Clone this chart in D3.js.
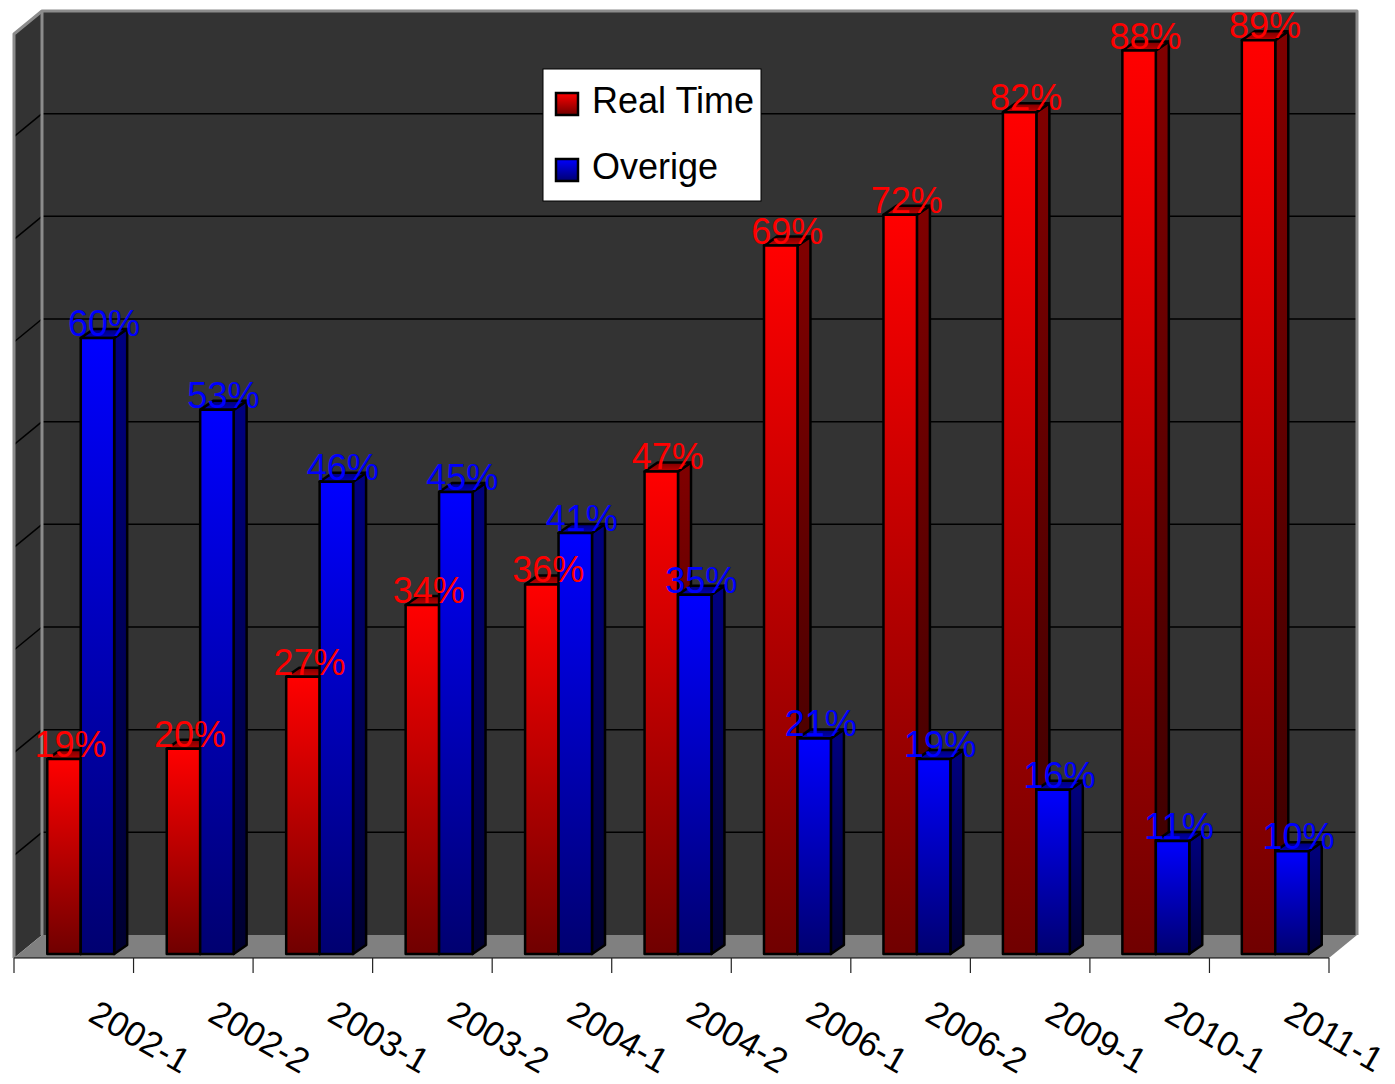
<!DOCTYPE html>
<html>
<head>
<meta charset="utf-8">
<script src="https://cdn.jsdelivr.net/npm/d3@7"></script>
<style>
  html, body { margin: 0; padding: 0; background: #ffffff; }
  svg { display: block; }
  text { font-family: "Liberation Sans", Arial, sans-serif; }
</style>
</head>
<body>
<svg id="chart" width="1395" height="1084"></svg>
<script>
// Share of measurements per period
const categories = ["2002-1", "2002-2", "2003-1", "2003-2", "2004-1", "2004-2",
                    "2006-1", "2006-2", "2009-1", "2010-1", "2011-1"];
const seriesNames = ["Real Time", "Overige"];
const realTime = [19, 20, 27, 34, 36, 47, 69, 72, 82, 88, 89];
const overige  = [60, 53, 46, 45, 41, 35, 21, 19, 16, 11, 10];
const gridValues = [10, 20, 30, 40, 50, 60, 70, 80, 90];

const seriesValues = [realTime, overige];

const svg = d3.select("#chart");

// 3D box geometry: back wall plane, and the depth offset toward the viewer
const back = { left: 42, right: 1357, top: 11, bottom: 935 };
const depth = { dx: -28, dy: 23 };      // back wall -> front edge of floor
const barPlaneDy = 19;                   // front face of bars sits this far forward
const bar3d = { dx: 13, dy: -9 };        // bar depth (front -> back)

const yBack = d3.scaleLinear().domain([0, 90]).range([back.bottom, back.top]);
const yFront = d3.scaleLinear().domain([0, 90]).range([back.bottom + barPlaneDy, back.top + barPlaneDy]);

// Category bands in the bar plane and on the floor's front edge
const frontLeft = back.left + depth.dx, frontRight = back.right + depth.dx;
const x0 = d3.scaleBand().domain(categories).range([21, 1335])
  .paddingInner(0.44).paddingOuter(0.22);
const x1 = d3.scaleBand().domain(seriesNames).range([0, x0.bandwidth()]);
const xFloor = d3.scaleBand().domain(categories).range([frontLeft, frontRight]);

// Gradients
const defs = svg.append("defs");
function grad(id, c0, c1) {
  const g = defs.append("linearGradient").attr("id", id)
    .attr("x1", 0).attr("y1", 0).attr("x2", 0).attr("y2", 1);
  g.append("stop").attr("offset", "0%").attr("stop-color", c0);
  g.append("stop").attr("offset", "100%").attr("stop-color", c1);
}
grad("redFront", "#ff0000", "#700000");
grad("redSide", "#800000", "#380000");
grad("redTop", "#7a0000", "#c00000");
grad("blueFront", "#0000ff", "#000070");
grad("blueSide", "#000080", "#000030");
grad("blueTop", "#000078", "#0000b8");

const fills = [
  { front: "url(#redFront)", side: "url(#redSide)", top: "url(#redTop)", text: "#ff0000" },
  { front: "url(#blueFront)", side: "url(#blueSide)", top: "url(#blueTop)", text: "#0000ff" }
];

const line = d3.line();

// Back wall
svg.append("rect")
  .attr("x", back.left).attr("y", back.top)
  .attr("width", back.right - back.left).attr("height", back.bottom - back.top)
  .attr("fill", "#333333");

// Left wall
svg.append("path")
  .attr("d", line([[back.left, back.top], [back.left + depth.dx, back.top + depth.dy],
                   [back.left + depth.dx, back.bottom + depth.dy], [back.left, back.bottom]]) + "Z")
  .attr("fill", "#333333");

// Gridlines on back and left walls
const grid = svg.append("g").attr("stroke", "#000").attr("stroke-width", 1.5);
grid.selectAll("line.back").data(gridValues).join("line")
  .attr("class", "back")
  .attr("x1", back.left).attr("x2", back.right)
  .attr("y1", d => yBack(d)).attr("y2", d => yBack(d));
grid.selectAll("line.side").data(gridValues).join("line")
  .attr("class", "side")
  .attr("x1", back.left).attr("y1", d => yBack(d))
  .attr("x2", back.left + depth.dx).attr("y2", d => yBack(d) + depth.dy);

// Floor
svg.append("path")
  .attr("d", line([[back.left, back.bottom], [back.right, back.bottom],
                   [back.right + depth.dx, back.bottom + depth.dy],
                   [back.left + depth.dx, back.bottom + depth.dy]]) + "Z")
  .attr("fill", "#808080");

// Wall borders
const border = svg.append("g").attr("fill", "none").attr("stroke", "#8c8c8c")
  .attr("stroke-width", 3).attr("stroke-linejoin", "round");
border.append("path")
  .attr("d", line([[back.left + depth.dx, back.bottom + depth.dy],
                   [back.left + depth.dx, back.top + depth.dy],
                   [back.left, back.top], [back.right, back.top], [back.right, back.bottom]]));
border.append("line")
  .attr("x1", back.left).attr("x2", back.left)
  .attr("y1", back.top).attr("y2", back.bottom);

// Floor front edge and category ticks
const axisY = back.bottom + depth.dy;
svg.append("line")
  .attr("x1", frontLeft).attr("x2", frontRight)
  .attr("y1", axisY).attr("y2", axisY)
  .attr("stroke", "#000").attr("stroke-width", 1.2);
const tickXs = categories.map(c => xFloor(c)).concat([frontRight]);
svg.append("g").selectAll("line").data(tickXs).join("line")
  .attr("x1", d => d).attr("x2", d => d)
  .attr("y1", axisY).attr("y2", axisY + 15)
  .attr("stroke", "#222").attr("stroke-width", 1.2);

// Bars (front, side, top faces)
const bars = svg.append("g")
  .attr("stroke", "#000").attr("stroke-width", 2.5).attr("stroke-linejoin", "round");

const barData = [];
categories.forEach((c, i) => {
  seriesNames.forEach((s, j) => {
    const v = seriesValues[j][i];
    const xL = x0(c) + x1(s), xR = xL + x1.bandwidth();
    barData.push({ c, s, j, v, xL, xR, yT: yFront(v), yB: yFront(0) });
  });
});

barData.forEach(b => {
  const f = fills[b.j];
  const { dx, dy } = bar3d;
  // side face
  bars.append("path")
    .attr("d", line([[b.xR, b.yT], [b.xR + dx, b.yT + dy], [b.xR + dx, b.yB + dy], [b.xR, b.yB]]) + "Z")
    .attr("fill", f.side);
  // top face
  bars.append("path")
    .attr("d", line([[b.xL, b.yT], [b.xL + dx, b.yT + dy], [b.xR + dx, b.yT + dy], [b.xR, b.yT]]) + "Z")
    .attr("fill", f.top);
  // front face
  bars.append("rect")
    .attr("x", b.xL).attr("y", b.yT)
    .attr("width", b.xR - b.xL).attr("height", b.yB - b.yT)
    .attr("fill", f.front);
});

// Value labels
svg.append("g").selectAll("text").data(barData).join("text")
  .attr("x", d => (d.xL + d.xR) / 2 + bar3d.dx / 2)
  .attr("y", d => d.yT - 2)
  .attr("text-anchor", "middle")
  .attr("font-size", 36)
  .attr("fill", d => fills[d.j].text)
  .text(d => d.v + "%");

// Category labels, rotated
svg.append("g").selectAll("text").data(categories).join("text")
  .attr("transform", c => `translate(${xFloor(c) + xFloor.bandwidth() / 2 + 13},${axisY + 62}) rotate(30)`)
  .attr("font-size", 35)
  .attr("fill", "#000")
  .text(c => c);

// Legend
const legend = svg.append("g").attr("transform", "translate(543,69)");
legend.append("rect")
  .attr("width", 218).attr("height", 132)
  .attr("fill", "#fff").attr("stroke", "#000").attr("stroke-width", 1);
const items = legend.selectAll("g.item").data(seriesNames).join("g")
  .attr("class", "item")
  .attr("transform", (d, i) => `translate(0,${i * 66})`);
items.append("rect")
  .attr("x", 13).attr("y", 24).attr("width", 22).attr("height", 22)
  .attr("fill", (d, i) => fills[i].front)
  .attr("stroke", "#000").attr("stroke-width", 2.5);
items.append("text")
  .attr("x", 49).attr("y", 44)
  .attr("font-size", 36)
  .attr("fill", "#000")
  .text(d => d);
</script>
</body>
</html>
